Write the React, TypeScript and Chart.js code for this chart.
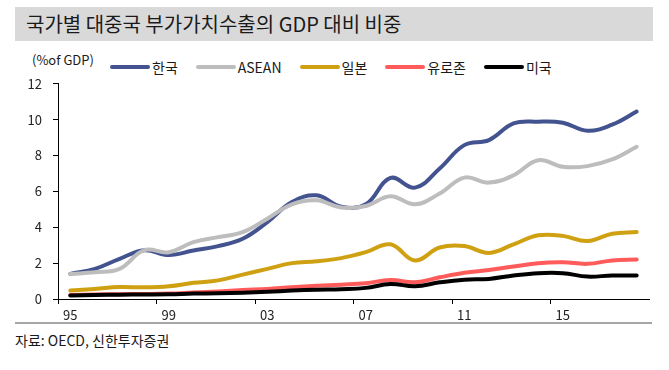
import React, { useEffect, useRef } from 'react';
import { Chart, registerables } from 'chart.js';

Chart.register(...registerables);

const years = ['95','96','97','98','99','00','01','02','03','04','05','06','07','08','09','10','11','12','13','14','15','16','17','18'];
const shownYears = ['95','99','03','07','11','15'];
const yTicks = [0, 2, 4, 6, 8, 10, 12];

const korea = [1.40,1.68,2.24,2.72,2.45,2.70,2.95,3.36,4.29,5.41,5.78,5.15,5.28,6.75,6.21,7.28,8.58,8.86,9.79,9.89,9.83,9.38,9.72,10.45];
const asean = [1.40,1.49,1.68,2.72,2.61,3.17,3.45,3.73,4.48,5.28,5.50,5.10,5.19,5.73,5.28,5.88,6.77,6.49,6.90,7.74,7.37,7.41,7.78,8.49];
const japan = [0.47,0.56,0.67,0.65,0.71,0.90,1.04,1.36,1.68,2.00,2.10,2.28,2.61,3.05,2.15,2.87,2.95,2.57,3.05,3.55,3.52,3.23,3.64,3.73];
const euro = [0.22,0.25,0.27,0.28,0.30,0.36,0.42,0.50,0.56,0.66,0.74,0.80,0.88,1.06,0.93,1.21,1.46,1.62,1.81,2.00,2.05,1.96,2.15,2.20];
const usa = [0.20,0.22,0.24,0.25,0.26,0.30,0.32,0.35,0.40,0.47,0.52,0.55,0.62,0.84,0.71,0.93,1.08,1.12,1.31,1.44,1.44,1.25,1.31,1.31];

const seriesNames = ['한국', 'ASEAN', '일본', '유로존', '미국'];
const seriesData = [korea, asean, japan, euro, usa];
const seriesColors = ['#43538f', '#bdbdbd', '#cfa112', '#ff5b5b', '#000000'];

const FONT = '"Noto Sans CJK KR", "Noto Sans", sans-serif';

export default function App() {
  const ref = useRef<HTMLCanvasElement>(null);

  useEffect(() => {
    document.body.style.margin = '0';
    const chart = new Chart(ref.current as HTMLCanvasElement, {
      type: 'line',
      data: {
        labels: years,
        datasets: seriesNames.map((name, i) => ({
          label: name,
          data: seriesData[i],
          borderColor: seriesColors[i],
          backgroundColor: seriesColors[i],
          borderWidth: 4,
          pointRadius: 0,
          tension: 0.4,
          borderCapStyle: 'round' as const,
          fill: false,
          order: seriesNames.length - i,
        })),
      },
      options: {
        animation: false,
        responsive: false,
        maintainAspectRatio: false,
        layout: { padding: { top: 10, right: 20, left: 0, bottom: 0 } },
        plugins: { legend: { display: false }, tooltip: { enabled: false } },
        scales: {
          x: {
            offset: true,
            grid: {
              offset: true,
              drawOnChartArea: false,
              tickLength: 5,
              color: (ctx: any) =>
                ctx.index % 4 === 0 && ctx.index < years.length ? '#000' : 'rgba(0,0,0,0)',
            },
            border: { color: '#000', width: 1 },
            ticks: {
              autoSkip: false,
              maxRotation: 0,
              padding: 3,
              color: '#222',
              font: { family: FONT, size: 13 },
              callback: (_v: any, i: number) => (shownYears.includes(years[i]) ? years[i] : ''),
            },
            afterFit: (s: any) => {
              s.height = 30;
            },
          },
          y: {
            min: yTicks[0],
            max: yTicks[yTicks.length - 1],
            grid: { drawOnChartArea: false, tickLength: 5, color: '#000' },
            border: { color: '#000', width: 1 },
            ticks: {
              stepSize: 2,
              padding: 11,
              color: '#222',
              font: { family: FONT, size: 13 },
            },
            afterFit: (s: any) => {
              s.width = 58;
            },
          },
        },
      },
    });
    return () => chart.destroy();
  }, []);

  return (
    <div
      style={{
        position: 'fixed',
        left: 0,
        top: 0,
        width: 669,
        height: 370,
        background: '#fff',
        fontFamily: FONT,
        color: '#1a1a1a',
      }}
    >
      <div
        style={{
          position: 'absolute',
          left: 15,
          top: 7,
          width: 638,
          height: 34,
          background: '#d9d9d9',
          fontSize: 20,
          lineHeight: '34px',
          paddingLeft: 11,
          boxSizing: 'border-box',
          whiteSpace: 'nowrap',
        }}
      >
        국가별 대중국 부가가치수출의 GDP 대비 비중
      </div>
      <div
        style={{
          position: 'absolute',
          left: 32,
          top: 51,
          fontSize: 13,
          lineHeight: '18px',
          whiteSpace: 'nowrap',
        }}
      >
        (%of GDP)
      </div>
      <div
        style={{
          position: 'absolute',
          left: 110,
          top: 57,
          height: 20,
          display: 'flex',
          alignItems: 'center',
          gap: 18,
          fontSize: 14,
          whiteSpace: 'nowrap',
        }}
      >
        {seriesNames.map((name, i) => (
          <div key={name} style={{ display: 'flex', alignItems: 'center' }}>
            <span
              style={{
                display: 'inline-block',
                width: 40,
                height: 4,
                borderRadius: 2,
                background: seriesColors[i],
                marginRight: 2,
              }}
            />
            <span style={{ lineHeight: '20px' }}>{name}</span>
          </div>
        ))}
      </div>
      <canvas
        ref={ref}
        width={669}
        height={264}
        style={{ position: 'absolute', left: 0, top: 65, width: 669, height: 264 }}
      />
      <div
        style={{
          position: 'absolute',
          left: 15,
          top: 322,
          width: 637,
          height: 2,
          background: '#a6a6a6',
        }}
      />
      <div
        style={{
          position: 'absolute',
          left: 15,
          top: 330,
          fontSize: 14,
          lineHeight: '20px',
          whiteSpace: 'nowrap',
        }}
      >
        자료: OECD, 신한투자증권
      </div>
    </div>
  );
}
